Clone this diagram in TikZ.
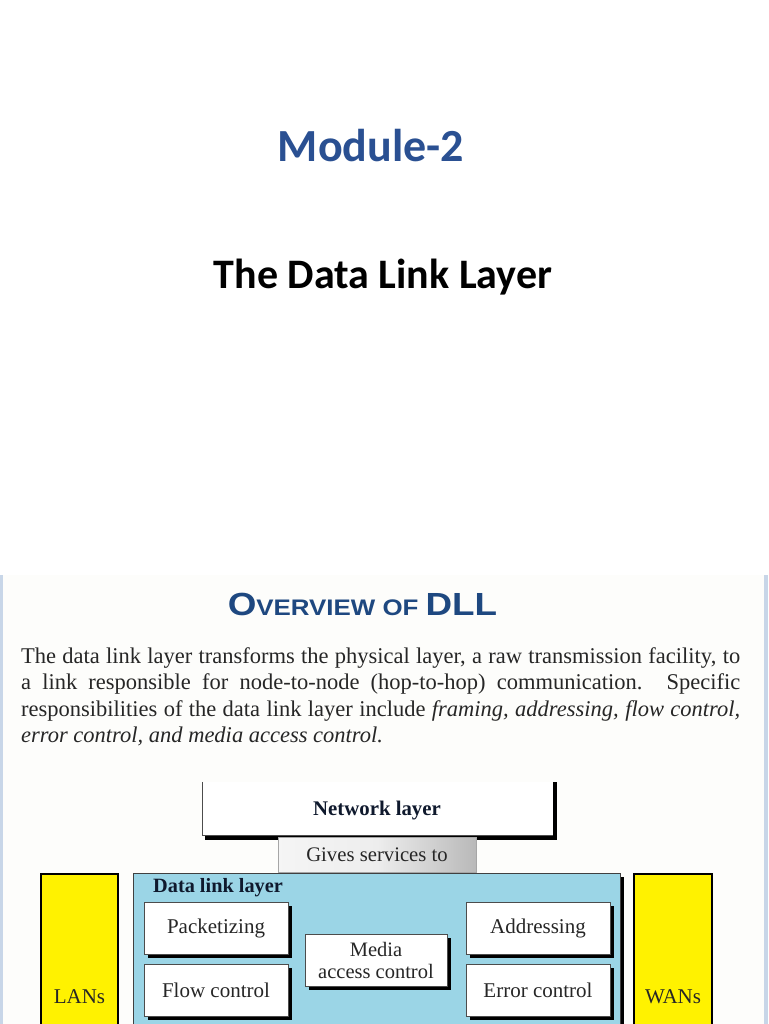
\documentclass[tikz,border=0pt]{standalone}
\usepackage{fontspec}
\usepackage{graphicx}
\setmainfont{Liberation Serif}
\newfontfamily\slidefont{Carlito}
\newfontfamily\hdfont{Liberation Sans}
\usetikzlibrary{shadows}
\definecolor{modblue}{RGB}{42,80,146}
\definecolor{ovblue}{RGB}{30,72,128}
\definecolor{dllblue}{RGB}{155,213,230}
\definecolor{framebl}{RGB}{200,214,232}
\definecolor{bgpaper}{RGB}{253,253,251}
\definecolor{txtgray}{RGB}{38,38,38}
\definecolor{lblnavy}{RGB}{15,25,45}
\begin{document}
\begin{tikzpicture}[x=1pt,y=-1pt,
  funcbox/.style={draw=gray!60!black, line width=0.6pt, fill=white,
    minimum width=144pt, minimum height=52pt, inner sep=0pt,
    font=\fontsize{21}{22}\selectfont, text=txtgray,
    drop shadow={shadow xshift=3.5pt, shadow yshift=-3.5pt, opacity=1, fill=black}},
  netbox/.style={fill=white, inner sep=0pt},
  lanbox/.style={draw=black, line width=2pt, fill=yellow},
  bodyline/.style={anchor=base west, inner sep=0pt, text=txtgray,
    font=\fontsize{22.5}{26.5}\selectfont},
  lbl/.style={anchor=base, inner sep=0pt}
]
\useasboundingbox (0,0) rectangle (768,1024);
\fill[white] (0,0) rectangle (768,1024);

% slide titles
\node[lbl, text=modblue, font=\slidefont\bfseries\fontsize{46}{52}\selectfont] (module) at (371,162) {Module-2};
\node[lbl, text=black, font=\slidefont\bfseries\fontsize{42}{48}\selectfont] (subtitle) at (383,288) {The Data Link Layer};

% embedded picture background and frame
\fill[bgpaper] (0,575) rectangle (768,1024);
\fill[framebl] (0,575) rectangle (3,1024);
\fill[framebl] (764,575) rectangle (768,1024);

% heading
\node[lbl, text=ovblue] (ovhead) at (362.5,615)
  {\scalebox{1.15}[1]{\hdfont\bfseries\fontsize{32}{32}\selectfont O\fontsize{22.5}{22.5}\selectfont VERVIEW OF \fontsize{32}{32}\selectfont DLL}};

% paragraph
\node[bodyline] (l1) at (21,663) {\makebox[719pt][s]{The data link layer transforms the physical layer, a raw transmission facility, to}};
\node[bodyline] (l2) at (21,689.5) {\makebox[719pt][s]{a link responsible for node-to-node (hop-to-hop) communication. Specific}};
\node[bodyline] (l3) at (21,716) {\makebox[719pt][s]{responsibilities of the data link layer include \textit{framing, addressing, flow control,}}};
\node[bodyline] (l4) at (21,742.5) {\textit{error control, and media access control.}};

% network layer (open-top box with shadow)
\node[netbox, minimum width=351pt, minimum height=53pt] (net) at (377.5,808.5) {};
\fill[black] ([xshift=3pt]net.south west) rectangle ([xshift=4pt,yshift=-5pt]net.south east);
\fill[black] ([xshift=-0.5pt]net.north east) rectangle ([xshift=4pt]net.south east);
\draw[line width=0.6pt, gray!60!black] (net.north west) -- (net.south west) -- (net.south east);
\node[lbl, text=lblnavy, font=\bfseries\fontsize{20.8}{22}\selectfont] (netlbl) at (377,815) {Network layer};

% gives services to
\node[draw=gray!70, line width=0.5pt, left color=gray!8, right color=gray!55, middle color=gray!14,
  minimum width=198pt, minimum height=35pt, inner sep=0pt,
  font=\fontsize{20.7}{22}\selectfont, text=txtgray] (gives) at (377,854.5) {Gives services to};

% data link layer box
\fill[black] (619,877) rectangle (623.5,1030);
\node[draw=gray!50!black, line width=0.6pt, fill=dllblue, minimum width=487pt, minimum height=157pt, inner sep=0pt] (dll) at (376.5,951.5) {};
\node[anchor=base west, inner sep=0pt, text=lblnavy, font=\bfseries\fontsize{20.3}{22}\selectfont] (dlllbl) at (153,892) {Data link layer};

% function boxes
\node[funcbox] (pack) at (216,928) {Packetizing};
\node[funcbox] (flow) at (216,990.5) {Flow control};
\node[funcbox, minimum width=142pt, align=center, font=\fontsize{20.5}{22}\selectfont] (media) at (376,960) {Media\\access control};
\node[funcbox] (addr) at (538,928) {Addressing};
\node[funcbox] (err) at (538,990.5) {Error control};

% LANs / WANs
\draw[lanbox] (41,874) rectangle (118,1030);
\draw[lanbox] (634,874) rectangle (712,1030);
\node[lbl, text=txtgray, font=\fontsize{21}{22}\selectfont] (lans) at (79.5,1003) {LANs};
\node[lbl, text=txtgray, font=\fontsize{21}{22}\selectfont] (wans) at (673,1003) {WANs};
\end{tikzpicture}
\end{document}
